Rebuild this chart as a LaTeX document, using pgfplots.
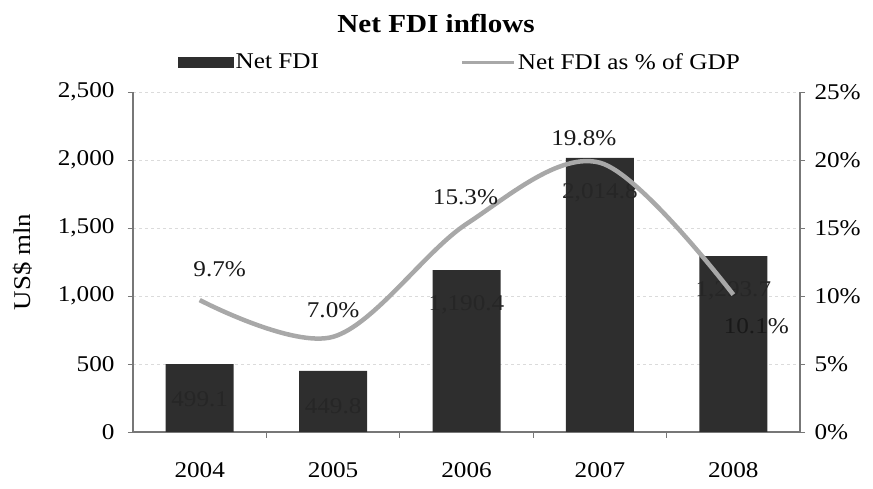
\documentclass[border=0pt]{standalone}
\usepackage{fontspec}
\setmainfont{Liberation Serif}[FakeStretch=1.12]
\usepackage{pgfplots}
\pgfplotsset{compat=1.18}
\definecolor{barcol}{HTML}{2E2E2E}
\definecolor{linecol}{HTML}{A8A8A8}
\definecolor{axcol}{HTML}{777777}
\newcommand{\fs}{\fontsize{22.5}{26}\selectfont}
\begin{document}
\begin{tikzpicture}[x=1pt,y=1pt]
\useasboundingbox (0,0) rectangle (873,489);
\node[font=\fontsize{26}{30}\selectfont\bfseries] at (436,466) {Net FDI inflows};
\begin{axis}[at={(133pt,57pt)}, anchor=south west, scale only axis,
  width=667pt, height=340pt,
  xmin=-0.5, xmax=4.5, ymin=0, ymax=2500,
  axis x line*=bottom, axis y line*=left,
  axis line style={-, axcol, line width=1.2pt},
  every outer x axis line/.append style={-},
  every outer y axis line/.append style={-},
  xtick={0,...,4}, xticklabels={2004,2005,2006,2007,2008},
  major x tick style={draw=none},
  minor xtick={0.5,1.5,2.5,3.5},
  ytick={0,500,...,2500},
  tick align=outside, major tick length=5pt, minor tick length=6pt,
  tick style={axcol, line width=0.8pt},
  ymajorgrids, grid style={dashed, draw=black!14, line width=0.8pt},
  /pgf/number format/assume math mode=true,
  /pgf/number format/1000 sep={,},
  ticklabel style={font=\fs},
  xticklabel style={yshift=-22pt},
  yticklabel style={xshift=-10pt},
  ylabel={US\$ mln},
  ylabel style={font=\fontsize{24}{28}\selectfont, at={(axis description cs:-0.166,0.5)}, anchor=center},
  ]
  \addplot[ybar, bar width=68pt, fill=barcol, draw=none,
    point meta=y,
    nodes near coords={\pgfmathprintnumber[fixed,fixed zerofill,precision=1,1000 sep={,},assume math mode=true]{\pgfplotspointmeta}},
    nodes near coords style={font=\fs, text=black!85, anchor=center, yshift=-35pt}]
    coordinates {(0,499.1) (1,449.8) (2,1190.4) (3,2014.8) (4,1293.7)};
\end{axis}
\begin{axis}[at={(133pt,57pt)}, anchor=south west, scale only axis,
  width=667pt, height=340pt,
  xmin=-0.5, xmax=4.5, ymin=0, ymax=25,
  axis y line*=right, axis x line=none,
  axis line style={-, axcol, line width=1.2pt},
  every outer y axis line/.append style={-},
  ytick={0,5,...,25},
  yticklabel={\pgfmathprintnumber[assume math mode=true]{\tick}\%},
  tick align=outside, major tick length=5pt,
  tick style={axcol, line width=0.8pt},
  ticklabel style={font=\fs},
  yticklabel style={xshift=6pt},
  legend style={at={(0.063,1.088)}, anchor=west, draw=none, fill=none,
    font=\fs, legend columns=2,
    /tikz/every even column/.append style={column sep=140pt}},
  ]
  \addlegendimage{legend image code/.code={\fill[barcol] (0pt,-5pt) rectangle (55pt,5pt);}}
  \addlegendentry{Net FDI}
  \addplot[linecol, line width=4.5pt, smooth, tension=0.55,
    legend image code/.code={\draw[linecol, line width=3pt] (0pt,0pt) -- (52pt,0pt);}]
    coordinates {(0,9.7) (1,7.0) (2,15.3) (3,19.8) (4,10.1)};
  \addlegendentry{Net FDI as \% of GDP}
  \addplot[draw=none, mark=none, forget plot, point meta=y,
    visualization depends on={\thisrow{dx} \as \dx},
    visualization depends on={\thisrow{dy} \as \dy},
    nodes near coords={\pgfmathprintnumber[fixed,fixed zerofill,precision=1,assume math mode=true]{\pgfplotspointmeta}\%},
    nodes near coords style={font=\fs, text=black!90, anchor=center, xshift=\dx pt, yshift=\dy pt}]
    table {
    x y dx dy
    0 9.7 20 31
    1 7.0 0 27
    2 15.3 -1 27
    3 19.8 -16 25
    4 10.1 23 -32
    };
\end{axis}
\end{tikzpicture}
\end{document}
